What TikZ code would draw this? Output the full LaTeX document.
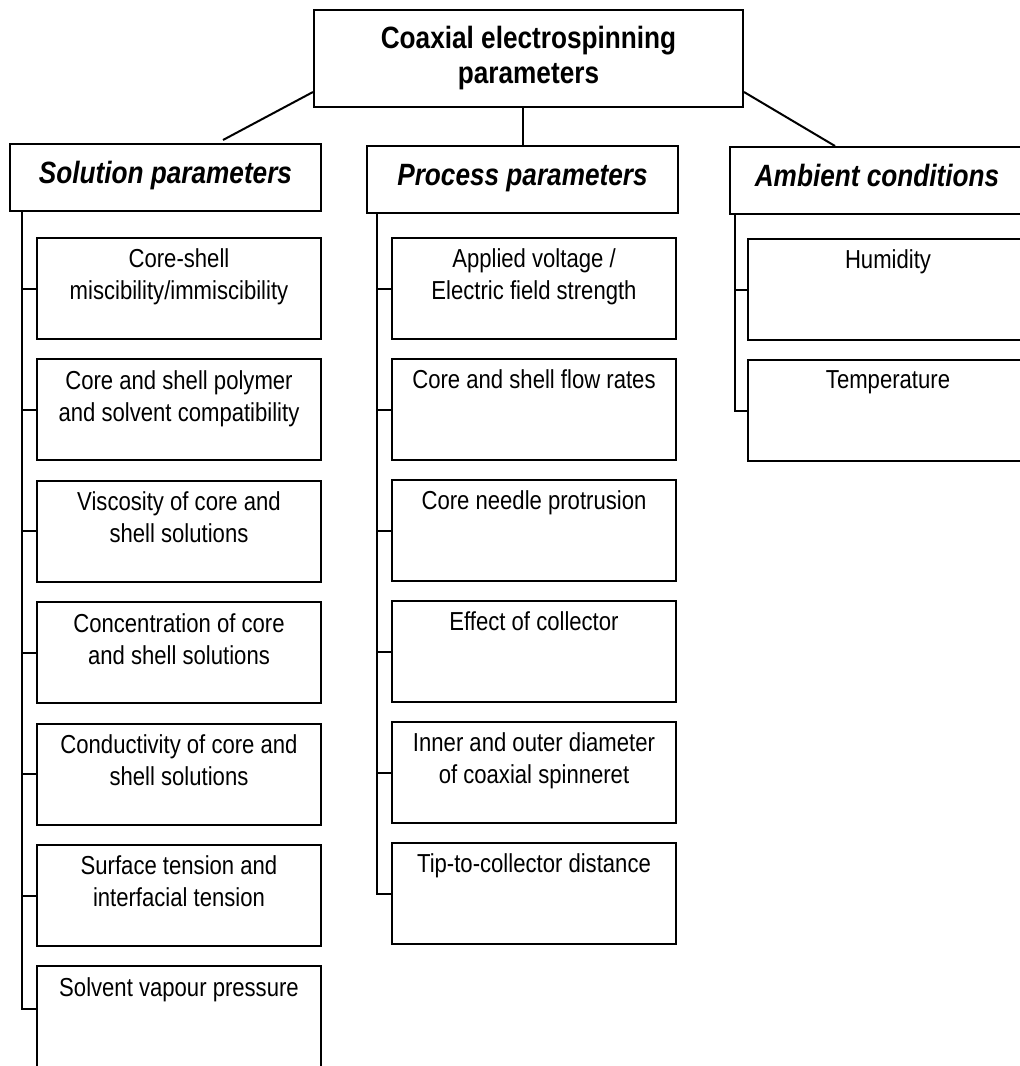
\documentclass[tikz,border=0pt]{standalone}
\usepackage{fontspec}
\setmainfont{Liberation Sans}[FakeStretch=0.85]
\usetikzlibrary{positioning,calc}

\newcommand{\celltext}[1]{\parbox[t][39.5pt][t]{125pt}{\centering #1}}

\begin{document}
\begin{tikzpicture}[
    x=0.5pt, y=-0.5pt,
    box/.style={draw, line width=1pt, anchor=north west},
    head/.style={box, minimum width=155.5pt, minimum height=33.5pt,
      text height=0.84em, text depth=0.2em,
      font=\fontsize{15.4}{18}\selectfont\bfseries\itshape},
    cell/.style={box, outer sep=0pt, inner xsep=0pt, inner ysep=5.5pt,
      minimum width=142pt, font=\fontsize{13}{16}\selectfont},
    link/.style={line width=1pt},
  ]
  \useasboundingbox (0,0) rectangle (1020,1066);

  % Root and the three groups
  \node[box, minimum width=214.5pt, minimum height=48.5pt, align=center,
    font=\fontsize{15.4}{17.5}\selectfont\bfseries] (main) at (313,9)
    {Coaxial electrospinning\\parameters};
  \node[head] (sol) at (9,143) {Solution parameters};
  \node[head] (proc) at (366,145) {Process parameters};
  \node[head, minimum width=147pt] (amb) at (729,146) {Ambient conditions};

  \draw[link] ([yshift=8pt]main.south west) -- ([xshift=-49.5pt, yshift=1.5pt]sol.north east);
  \draw[link] (proc.north) -- (proc.north |- main.south);
  \draw[link] ([yshift=8pt]main.south east) -- ([xshift=53pt]amb.north west);

  % Solution parameters
  \node[cell] (s1) at (37,238) {\celltext{Core-shell\\miscibility/immiscibility}};
  \node[cell, below=10.2pt of s1.south west, anchor=north west] (s2) {\celltext{Core and shell polymer\\and solvent compatibility}};
  \node[cell, below=10.2pt of s2.south west, anchor=north west] (s3) {\celltext{Viscosity of core and\\shell solutions}};
  \node[cell, below=10.2pt of s3.south west, anchor=north west] (s4) {\celltext{Concentration of core\\and shell solutions}};
  \node[cell, below=10.2pt of s4.south west, anchor=north west] (s5) {\celltext{Conductivity of core and\\shell solutions}};
  \node[cell, below=10.2pt of s5.south west, anchor=north west] (s6) {\celltext{Surface tension and\\interfacial tension}};
  \node[cell, below=10.2pt of s6.south west, anchor=north west] (s7) {\celltext{Solvent vapour pressure}};

  % Process parameters
  \node[cell] (p1) at (392,238) {\celltext{Applied voltage /\\Electric field strength}};
  \node[cell, below=10pt of p1.south west, anchor=north west] (p2) {\celltext{Core and shell flow rates}};
  \node[cell, below=10pt of p2.south west, anchor=north west] (p3) {\celltext{Core needle protrusion}};
  \node[cell, below=10pt of p3.south west, anchor=north west] (p4) {\celltext{Effect of collector}};
  \node[cell, below=10pt of p4.south west, anchor=north west] (p5) {\celltext{Inner and outer diameter\\of coaxial spinneret}};
  \node[cell, below=10pt of p5.south west, anchor=north west] (p6) {\celltext{Tip-to-collector distance}};

  % Ambient conditions
  \node[cell, minimum width=140pt] (a1) at (748,239) {\celltext{Humidity}};
  \node[cell, minimum width=140pt, below=10pt of a1.south west, anchor=north west] (a2) {\celltext{Temperature}};

  % Spines and ticks
  \coordinate (solspine) at ([xshift=6.5pt]sol.south west);
  \draw[link] (solspine) |- ([yshift=4pt]s7.west);
  \foreach \i in {1,...,6} \draw[link] (s\i.west -| solspine) -- (s\i.west);

  \coordinate (procspine) at ([xshift=5.5pt]proc.south west);
  \draw[link] (procspine) |- (p6.west);
  \foreach \i in {1,...,5} \draw[link] (p\i.west -| procspine) -- (p\i.west);

  \coordinate (ambspine) at ([xshift=3pt]amb.south west);
  \draw[link] (ambspine) |- (a2.west);
  \draw[link] (a1.west -| ambspine) -- (a1.west);
\end{tikzpicture}
\end{document}
